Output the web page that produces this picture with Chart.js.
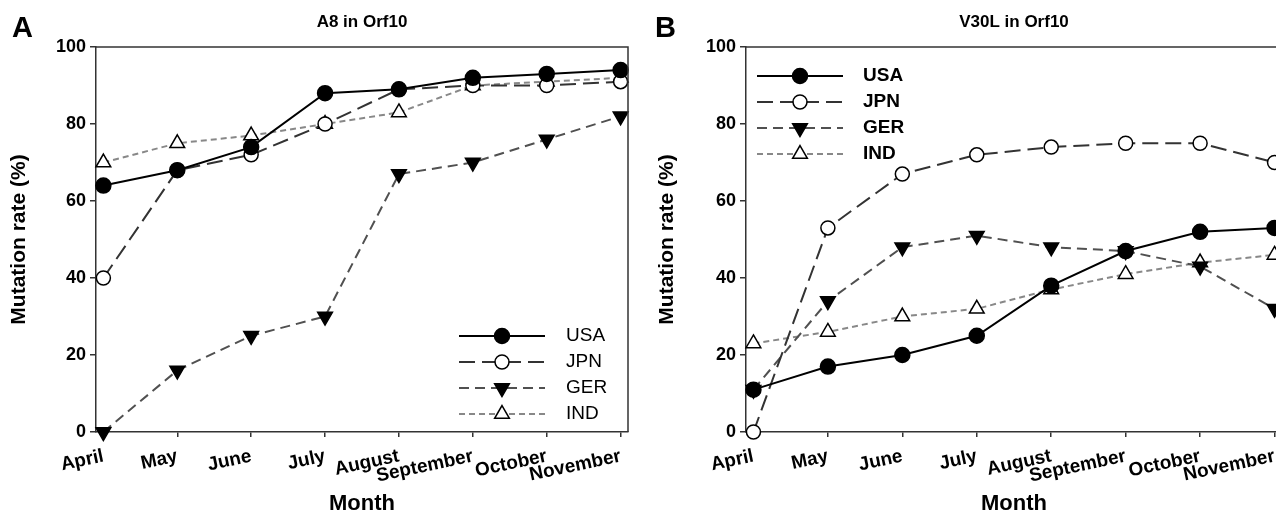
<!DOCTYPE html>
<html>
<head>
<meta charset="utf-8">
<script src="https://cdn.jsdelivr.net/npm/chart.js@4.4.1/dist/chart.umd.min.js"></script>
<style>
  html, body { margin: 0; padding: 0; background: #fff; width: 1276px; height: 515px; overflow: hidden; }
  .panel { position: absolute; top: 0; height: 515px; }
  #panelA { left: 0; width: 638px; }
  #panelB { left: 638px; width: 660px; }
</style>
</head>
<body>
<div class="panel" id="panelA"><canvas id="chartA" width="638" height="515"></canvas></div>
<div class="panel" id="panelB"><canvas id="chartB" width="660" height="515"></canvas></div>
<script>
const months = ['April', 'May', 'June', 'July', 'August', 'September', 'October', 'November'];
const yTicks = [0, 20, 40, 60, 80, 100];
const countries = ['USA', 'JPN', 'GER', 'IND'];

// A8 in Orf10
const a8Usa = [64, 68, 74, 88, 89, 92, 93, 94];
const a8Jpn = [40, 68, 72, 80, 89, 90, 90, 91];
const a8Ger = [0, 16, 25, 30, 67, 70, 76, 82];
const a8Ind = [70, 75, 77, 80, 83, 90, 91, 92];

// V30L in Orf10
const v30Usa = [11, 17, 20, 25, 38, 47, 52, 53];
const v30Jpn = [0, 53, 67, 72, 74, 75, 75, 70];
const v30Ger = [11, 34, 48, 51, 48, 47, 43, 32];
const v30Ind = [23, 26, 30, 32, 37, 41, 44, 46];

const FONT = '"Liberation Sans", Arial, sans-serif';

// line + marker look for each country
const styles = {
  USA: { color: '#000', dash: [], point: 'circle', rot: 0, fill: '#000', r: 7.5 },
  JPN: { color: '#333', dash: [16, 7], point: 'circle', rot: 0, fill: '#fff', r: 7 },
  GER: { color: '#505050', dash: [10, 6], point: 'triangle', rot: 180, fill: '#000', r: 8.5 },
  IND: { color: '#888', dash: [6, 4], point: 'triangle', rot: 0, fill: '#fff', r: 8.5 }
};

function drawMarker(ctx, s, x, y) {
  ctx.save();
  ctx.setLineDash([]);
  ctx.fillStyle = s.fill;
  ctx.strokeStyle = '#000';
  ctx.lineWidth = 1.5;
  ctx.beginPath();
  if (s.point === 'circle') {
    ctx.arc(x, y, s.r, 0, Math.PI * 2);
  } else {
    let rad = s.rot * Math.PI / 180;
    for (let k = 0; k < 3; k++) {
      const px = x + Math.sin(rad) * s.r;
      const py = y - Math.cos(rad) * s.r;
      if (k === 0) ctx.moveTo(px, py); else ctx.lineTo(px, py);
      rad += Math.PI * 2 / 3;
    }
    ctx.closePath();
  }
  ctx.fill();
  ctx.stroke();
  ctx.restore();
}

// frame, panel letter, title and in-plot legend
const panelDecor = {
  id: 'panelDecor',
  afterDraw(chart, args, o) {
    const { ctx, chartArea: a } = chart;
    ctx.save();
    ctx.strokeStyle = '#333';
    ctx.lineWidth = 1.5;
    ctx.beginPath();
    ctx.moveTo(a.left, a.top);
    ctx.lineTo(a.right, a.top);
    ctx.lineTo(a.right, a.bottom);
    ctx.stroke();

    ctx.fillStyle = '#000';
    ctx.textBaseline = 'middle';
    ctx.textAlign = 'left';
    ctx.font = 'bold 29px ' + FONT;
    ctx.fillText(o.letter, o.letterX, 29);

    ctx.textAlign = 'center';
    ctx.font = 'bold 17px ' + FONT;
    ctx.fillText(o.title, (a.left + a.right) / 2, 22);

    const L = o.legend;
    ctx.textAlign = 'left';
    ctx.font = (L.bold ? 'bold ' : '') + '19px ' + FONT;
    countries.forEach((c, i) => {
      const s = styles[c];
      const y = L.rows[i];
      ctx.strokeStyle = s.color;
      ctx.lineWidth = 2;
      ctx.setLineDash(s.dash);
      ctx.beginPath();
      ctx.moveTo(L.x1, y);
      ctx.lineTo(L.x2, y);
      ctx.stroke();
      ctx.setLineDash([]);
      drawMarker(ctx, s, (L.x1 + L.x2) / 2, y);
      ctx.fillStyle = '#000';
      ctx.fillText(c, L.textX, y);
    });
    ctx.restore();
  }
};

function makeDatasets(series) {
  return countries.map((c, i) => {
    const s = styles[c];
    return {
      label: c,
      data: series[i].map((v, k) => ({ x: k, y: v })),
      borderColor: s.color,
      borderWidth: 2,
      borderDash: s.dash,
      tension: 0,
      fill: false,
      clip: false,
      pointStyle: s.point,
      pointRotation: s.rot,
      pointRadius: s.r,
      pointBackgroundColor: s.fill,
      pointBorderColor: '#000',
      pointBorderWidth: 1.5
    };
  });
}

function makeChart(id, series, p) {
  new Chart(document.getElementById(id), {
    type: 'line',
    data: { datasets: makeDatasets(series) },
    plugins: [panelDecor],
    options: {
      responsive: false,
      animation: false,
      layout: { padding: { top: 47, right: p.padRight, left: 0, bottom: 0 } },
      plugins: {
        legend: { display: false },
        tooltip: { enabled: false },
        panelDecor: { letter: p.letter, letterX: p.letterX, title: p.title, legend: p.legend }
      },
      scales: {
        x: {
          type: 'linear',
          min: -0.1,
          max: 7.1,
          afterFit: (scale) => { scale.height = 83; },
          afterBuildTicks: (scale) => { scale.ticks = months.map((m, k) => ({ value: k })); },
          ticks: {
            autoSkip: false,
            minRotation: 12,
            maxRotation: 12,
            padding: 8,
            color: '#000',
            font: { family: FONT, size: 19, weight: 'bold' },
            callback: (v) => months[v]
          },
          grid: { drawOnChartArea: false, tickLength: 5, color: '#333', lineWidth: 1.5 },
          border: { color: '#333', width: 1.5 },
          title: {
            display: true, text: 'Month', color: '#000',
            font: { family: FONT, size: 22, weight: 'bold', lineHeight: 1 },
            padding: { top: 0, bottom: 0 }
          }
        },
        y: {
          min: 0,
          max: 100,
          afterFit: (scale) => { scale.width = p.yWidth; },
          afterBuildTicks: (scale) => { scale.ticks = yTicks.map(v => ({ value: v })); },
          ticks: {
            padding: 4,
            color: '#000',
            font: { family: FONT, size: 18, weight: 'bold' }
          },
          grid: { drawOnChartArea: false, tickLength: 6, color: '#333', lineWidth: 1.5 },
          border: { color: '#333', width: 1.5 },
          title: {
            display: true, text: 'Mutation rate (%)', color: '#000',
            font: { family: FONT, size: 21, weight: 'bold', lineHeight: 1.2 },
            padding: { top: p.yTitlePad, bottom: 0 }
          }
        }
      }
    }
  });
}

makeChart('chartA', [a8Usa, a8Jpn, a8Ger, a8Ind], {
  letter: 'A', letterX: 12, title: 'A8 in Orf10',
  yWidth: 96, padRight: 6, yTitlePad: 7,
  legend: { x1: 459, x2: 545, textX: 566, rows: [336, 362, 388, 414], bold: false }
});

makeChart('chartB', [v30Usa, v30Jpn, v30Ger, v30Ind], {
  letter: 'B', letterX: 17, title: 'V30L in Orf10',
  yWidth: 108, padRight: 16, yTitlePad: 17,
  legend: { x1: 119, x2: 205, textX: 225, rows: [76, 102, 128, 154], bold: true }
});
</script>
</body>
</html>
